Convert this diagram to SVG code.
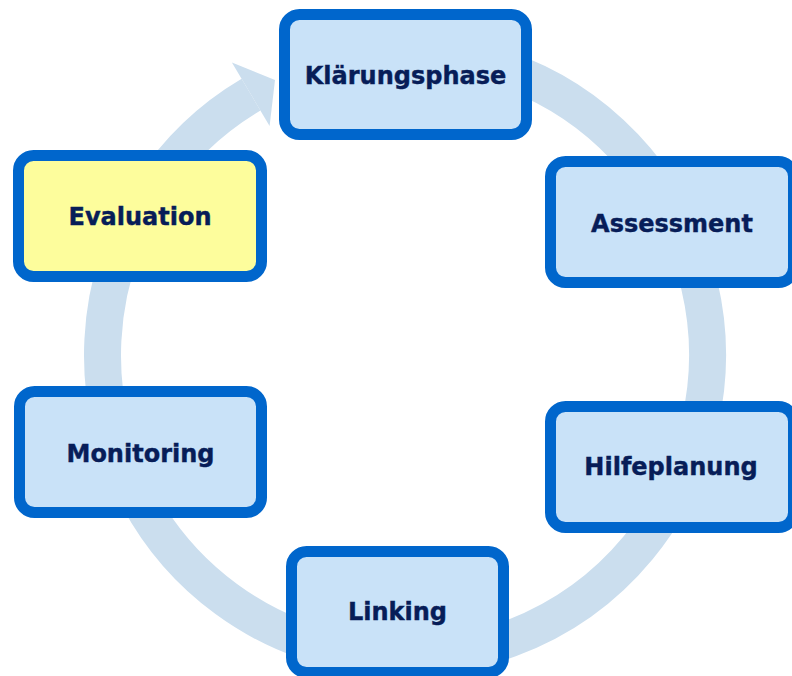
<svg xmlns="http://www.w3.org/2000/svg" width="792" height="676" viewBox="0 0 792 676">
<style>
.box{fill:#C9E2F8;stroke:#0066CC;stroke-width:11}
.hl{fill:#FDFD9C}
.lbl{font-family:"DejaVu Sans",Verdana,sans-serif;font-weight:bold;font-size:24px;fill:#071D58;stroke:#071D58;stroke-width:0.4;text-anchor:middle}
.ring{fill:none;stroke:#CBDEEE;stroke-width:37}
</style>
<rect width="792" height="676" fill="#FFFFFF"/>
<g id="connectors">
<path class="ring" d="M352.47,57.1 A302.5,302.5 0 1 1 251.03,94.63"/>
<polygon points="231.9,62.4 275,80 269.6,126.1" fill="#CBDEEE"/>
</g>
<g id="node-klaerungsphase">
<rect class="box" x="284.5" y="14.5" width="242" height="120" rx="15"/>
<text class="lbl" x="405.5" y="83.5">Klärungsphase</text>
</g>
<g id="node-assessment">
<rect class="box" x="550.5" y="161.5" width="243" height="121" rx="15"/>
<text class="lbl" x="672" y="231.5">Assessment</text>
</g>
<g id="node-hilfeplanung">
<rect class="box" x="550.5" y="406.5" width="243" height="121" rx="15"/>
<text class="lbl" x="671" y="475">Hilfeplanung</text>
</g>
<g id="node-linking">
<rect class="box" x="291.5" y="551.5" width="212" height="121" rx="15"/>
<text class="lbl" x="397.5" y="620">Linking</text>
</g>
<g id="node-monitoring">
<rect class="box" x="19.5" y="391.5" width="242" height="121" rx="15"/>
<text class="lbl" x="140.5" y="461.5">Monitoring</text>
</g>
<g id="node-evaluation">
<rect class="box hl" x="18.5" y="155.5" width="243" height="121" rx="15"/>
<text class="lbl" x="140" y="225">Evaluation</text>
</g>
</svg>
